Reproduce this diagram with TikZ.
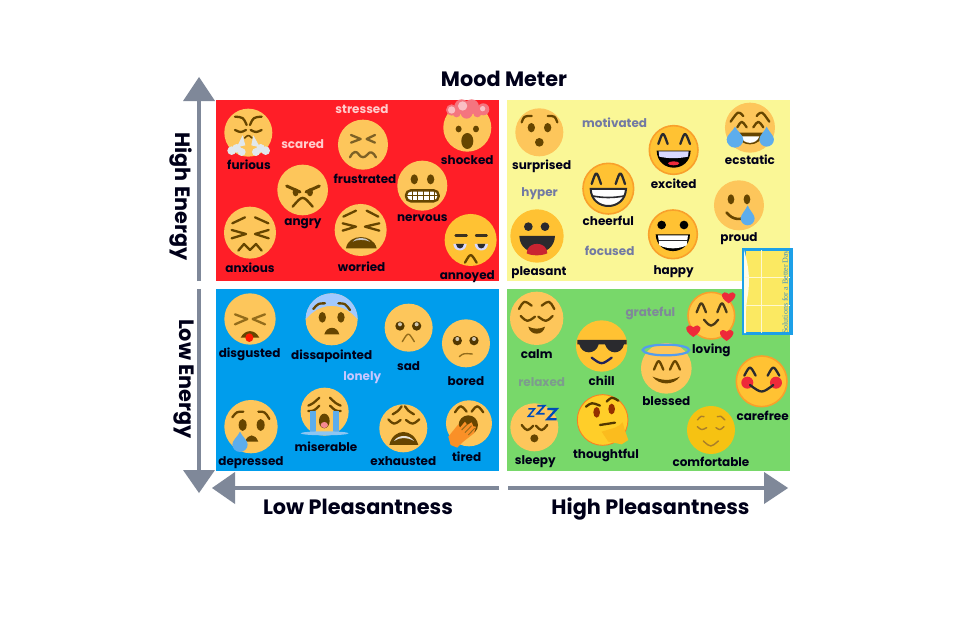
\documentclass[tikz,border=0pt]{standalone}
\usepackage{fontspec}
\setmainfont{Poppins}
\newfontfamily\thumbfont{Liberation Serif}
\definecolor{redp}{HTML}{FF1E27}
\definecolor{yelp}{HTML}{FAF796}
\definecolor{blup}{HTML}{009DEC}
\definecolor{grnp}{HTML}{78D86A}
\definecolor{gry}{HTML}{7F8899}
\definecolor{fa}{HTML}{FDC65B}
\definecolor{fb}{HTML}{FFC233}
\definecolor{rimc}{HTML}{F9A02B}
\definecolor{brn}{HTML}{664500}
\definecolor{tear}{HTML}{5DADEC}
\definecolor{dk}{HTML}{2A2A2E}
\definecolor{hrt}{HTML}{EE2A3A}
\definecolor{steam}{HTML}{E1E8ED}
\definecolor{tb}{HTML}{1CA0E8}
\definecolor{ty}{HTML}{FBE962}
\tikzset{
 panel/.style={draw=none,inner sep=0pt,outer sep=0pt},
 face/.style={circle,inner sep=0pt,outer sep=0pt,fill=fa},
 rimf/.style={fill=fb,draw=rimc,line width=1.6pt},
 lab/.style={font=\bfseries\fontsize{12}{13}\selectfont,text=black!90!blue,inner sep=0pt},
 mood/.style={font=\bfseries\fontsize{12}{13}\selectfont,inner sep=0pt},
 dsc/.style={yshift=-1.6pt},
 head/.style={font=\bfseries\fontsize{20.8}{22}\selectfont,text=black!90!blue,inner sep=0pt},
 axis/.style={draw=gry,line width=4.8pt},
 tip/.style={fill=gry},
 br/.style={draw=brn,line width=2.3pt,line cap=round,line join=round},
 thin br/.style={draw=brn,line width=1.4pt,line cap=round,line join=round},
 zone/.style={x=0.3333pt,y=-0.3333pt},
}
\newcommand{\fc}[5][]{\node[face,minimum size={#5*2/3*1pt},#1] (#2) at (#3,#4) {};}
\newcommand{\ey}[5][brn]{\fill[#1] (#2,#3) ellipse [x radius=#4,y radius=#5];}
\newcommand{\dropp}[4]{\fill[tear] (#1,#2) .. controls ({#1-.25*#4},{#2+.35*(#3-#2)}) and ({#1-#4},{#3-.5*#4}) .. ({#1-#4},#3) arc[start angle=180,end angle=0,radius=#4] .. controls ({#1+#4},{#3-.5*#4}) and ({#1+.25*#4},{#2+.35*(#3-#2)}) .. (#1,#2) -- cycle;}
\newcommand{\hrtt}[3]{\fill[hrt] (#1,{#2+#3}) .. controls ({#1-1.7*#3},{#2-.05*#3}) and ({#1-.95*#3},{#2-1.15*#3}) .. (#1,{#2-.4*#3}) .. controls ({#1+.95*#3},{#2-1.15*#3}) and ({#1+1.7*#3},{#2-.05*#3}) .. (#1,{#2+#3}) -- cycle;}
\begin{document}
\begin{tikzpicture}[x=1pt,y=-1pt]
\useasboundingbox (0,0) rectangle (972,618);
\fill[white] (0,0) rectangle (972,618);
% panels
\node[panel,fill=redp,minimum width=283pt,minimum height=181.5pt] (red) at (357.5,190.7) {};
\node[panel,fill=yelp,minimum width=283pt,minimum height=181.5pt] (yellow) at (648.5,190.7) {};
\node[panel,fill=blup,minimum width=283pt,minimum height=182pt] (blue) at (357.5,380) {};
\node[panel,fill=grnp,minimum width=283pt,minimum height=182pt] (green) at (648.5,380) {};
% axes
\coordinate (ua) at (199,281); \coordinate (ub) at (199,100);
\coordinate (da) at (199,289); \coordinate (db) at (199,471);
\coordinate (la) at (499,488); \coordinate (lb) at (234,488);
\coordinate (ra) at (508,488); \coordinate (rb) at (765,488);
\draw[axis] (ua) -- (ub); \draw[axis] (da) -- (db);
\draw[axis] (la) -- (lb); \draw[axis] (ra) -- (rb);
\fill[tip] (183,101) -- (199,77) -- (215,101) -- cycle;
\fill[tip] (183,470) -- (199,493) -- (215,470) -- cycle;
\fill[tip] (235,472) -- (212,488) -- (235,504) -- cycle;
\fill[tip] (764,472) -- (788,488) -- (764,504) -- cycle;
% headings
\node[head] (title) at (504,79) {Mood Meter};
\node[head,rotate=-90] (hi) at (181,196.5) {High Energy};
\node[head,rotate=-90] (lo) at (184,379) {Low Energy};
\node[head] (lp) at (358,507) {Low Pleasantness};
\node[head] (hp) at (650.5,509) {High Pleasantness};
% ============ RED
\begin{scope}[shift={(170,60)},zone]
\fc{furious}{235}{218}{72}
\draw[br] (195,170) .. controls (220,172) .. (230,195); \draw[br] (275,170) .. controls (250,172) .. (240,195);
\draw[br] (195,210) .. controls (212,218) .. (228,210); \draw[br] (242,210) .. controls (258,218) .. (275,210);
\draw[br,line width=1.6pt] (224,234) .. controls (235,224) .. (246,234);
\fill[steam] (218,226) -- (200,262) -- (226,256) -- cycle; \fill[steam] (250,226) -- (270,262) -- (244,256) -- cycle;
\foreach \a/\b/\c in {185/272/13,200/265/13,215/276/12,258/276/12,272/265/13,287/272/13}{\fill[steam] (\a,\b) circle[radius=\c];}
\fc{angry}{398}{390}{76}
\draw[br,line width=3pt] (350,378) -- (390,396); \draw[br,line width=3pt] (448,378) -- (408,396);
\ey{377}{397}{9}{12}\ey{420}{397}{9}{12}
\draw[br,line width=2.4pt] (368,440) .. controls (398,405) .. (428,440);
\fc{frustrated}{579}{254}{75}
\draw[br,draw=brn!85!white] (543,225) -- (572,237) -- (543,248); \draw[br,draw=brn!85!white] (615,225) -- (590,237) -- (615,248);
\draw[br,draw=brn!85!white] (540,292) .. controls (550,272) and (560,272) .. (567,284) .. controls (574,294) and (584,294) .. (592,284) .. controls (600,272) and (610,276) .. (618,292);
\fc{nervous}{757}{377}{75}
\ey{733}{358}{11}{15}\ey{782}{358}{11}{15}
\draw[fill=white,draw=brn,line width=2.4pt,rounded corners=5pt] (708,391) rectangle (806,424);
\draw[brn,line width=.8pt] (708,407) -- (806,407);
\foreach \a in {726,743,760,777,794}{\draw[brn,line width=.8pt] (\a,391) -- (\a,424);}
\fc{shocked}{892}{203}{72}
\ey{866}{207}{9}{10}\ey{918}{207}{9}{10}\ey{892}{243}{18}{24}
\foreach \a/\b/\c in {845/150/17,875/140/22,905/140/22,940/148/18,890/158/18,860/160/12,922/160/12}{\fill[hrt!65!white] (\a,\b) circle[radius=\c];}
\foreach \a/\b/\c in {845/150/11,878/138/14,938/146/8}{\fill[hrt!30!white] (\a,\b) circle[radius=\c];}
\fc[fill=fb]{annoyed}{902}{540}{78}
\draw[br,draw=dk!70!brn] (857,527) -- (890,527); \draw[br,draw=dk!70!brn] (918,527) -- (950,527);
\fill[white!85!blue] (850,552) .. controls (852,578) and (888,578) .. (890,552) -- cycle;
\fill[white!85!blue] (914,552) .. controls (916,578) and (952,578) .. (954,552) -- cycle;
\fill[dk] (858,552) .. controls (860,570) and (880,570) .. (882,552) -- cycle;
\fill[dk] (922,552) .. controls (924,570) and (944,570) .. (946,552) -- cycle;
\draw[br] (885,608) .. controls (902,578) .. (920,608);
\fc{anxious}{240}{518}{78}
\draw[br] (187,490) -- (225,472); \draw[br] (255,472) -- (295,490);
\draw[br] (185,510) -- (228,522) -- (185,535); \draw[br] (296,510) -- (255,522) -- (296,535);
\draw[br] (205,572) -- (222,552) -- (240,570) -- (258,552) -- (275,572);
\fc{worried}{572}{510}{78}
\draw[br] (520,470) -- (558,452); \draw[br] (590,452) -- (625,470);
\draw[br] (518,490) -- (558,500) -- (518,512); \draw[br] (628,490) -- (585,500) -- (628,512);
\fill[brn] (528,565) .. controls (535,520) and (610,520) .. (620,565) -- cycle;
\fill[gray!45] (548,545) .. controls (558,530) and (588,530) .. (600,545) .. controls (585,538) and (560,538) .. (548,545) -- cycle;
% labels
\node[lab] (furiousl) at (237,315) {furious};
\node[lab,dsc] (angryl) at (399,487) {angry};
\node[lab] (frustratedl) at (585,358) {frustrated};
\node[lab] (nervousl) at (757,476) {nervous};
\node[lab] (shockedl) at (892,300) {shocked};
\node[lab,dsc] (annoyedl) at (892,645) {annoyed};
\node[lab] (anxiousl) at (240,622) {anxious};
\node[lab] (worriedl) at (575,621) {worried};
\node[mood,text=white!80!red] (stressed) at (576,148) {stressed};
\node[mood,text=white!80!red] (scared) at (398,251) {scared};
\end{scope}
% ============ YELLOW
\begin{scope}[shift={(500,90)},zone]
\fc{surprised}{118}{127}{72}
\draw[br] (65,97) .. controls (72,78) .. (95,78); \draw[br] (143,78) .. controls (165,78) .. (172,97);
\ey{94}{113}{11}{14}\ey{143}{113}{11}{14}\ey{118}{157}{13}{13}
\fc[rimf]{cheerful}{325}{296}{76}
\draw[br,draw=dk] (275,282) .. controls (289,240) .. (303,282); \draw[br,draw=dk] (347,282) .. controls (361,240) .. (375,282);
\draw[fill=white,draw=dk,line width=2pt] (272,297) -- (378,297) .. controls (375,365) and (275,365) .. (272,297) -- cycle;
\draw[dk,line width=1.6pt] (278,318) .. controls (310,324) and (340,324) .. (372,318);
\fc[rimf]{excited}{521}{180}{73}
\draw[br,draw=dk] (475,162) .. controls (489,122) .. (503,162); \draw[br,draw=dk] (541,162) .. controls (555,122) .. (570,162);
\fill[black] (470,182) -- (572,182) .. controls (570,250) and (472,250) .. (470,182) -- cycle;
\fill[white!85!blue] (476,184) -- (566,184) -- (564,200) .. controls (535,206) and (505,206) .. (478,200) -- cycle;
\ey[hrt]{521}{220}{17}{6}
\fc{ecstatic}{750}{113}{75}
\draw[br] (692,95) .. controls (715,62) .. (730,78); \draw[br] (808,95) .. controls (785,62) .. (770,78);
\draw[br] (712,112) .. controls (725,90) .. (740,112); \draw[br] (760,112) .. controls (775,90) .. (790,112);
\fill[brn] (710,128) -- (790,128) .. controls (785,175) and (715,175) .. (710,128) -- cycle;
\fill[white] (722,139) -- (778,139) .. controls (770,165) and (730,165) .. (722,139) -- cycle;
\dropp{705}{110}{148}{25} \dropp{800}{110}{148}{22}
\fc{proud}{717}{346}{75}
\ey{693}{328}{10}{15}\ey{741}{328}{10}{15}
\draw[br,line width=2.6pt] (680,368) .. controls (700,392) and (725,392) .. (745,375);
\dropp{743}{346}{385}{21}
\fc[rimf]{happy}{519}{433}{73}
\ey[black]{485}{405}{13}{13}\ey[black]{552}{405}{13}{13}
\fill[black] (467,433) -- (570,433) .. controls (568,500) and (470,500) .. (467,433) -- cycle;
\fill[white] (474,436) -- (564,436) -- (560,466) .. controls (535,478) and (503,478) .. (478,466) -- cycle;
\draw[dk,line width=.8pt] (474,452) -- (564,452);
\fc[fill=fb]{pleasant}{111}{438}{80}
\ey[dk]{85}{410}{13}{13}\ey[dk]{135}{410}{13}{13}
\fill[dk] (58,438) -- (165,438) .. controls (162,505) and (60,505) .. (58,438) -- cycle;
\fill[hrt!85!black] (80,490) .. controls (80,452) and (142,452) .. (142,490) .. controls (125,498) and (95,498) .. (80,490) -- cycle;
\node[lab,dsc] (surprisedl) at (125,223) {surprised};
\node[lab] (cheerfull) at (325,394) {cheerful};
\node[lab] (excitedl) at (521,282) {excited};
\node[lab] (ecstaticl) at (750,210) {ecstatic};
\node[lab,dsc] (proudl) at (717,441) {proud};
\node[lab,dsc] (happyl) at (521,541) {happy};
\node[lab,dsc] (pleasantl) at (117,543) {pleasant};
\node[mood,text=gry!90!blue] (motivated) at (344,97) {motivated};
\node[mood,text=gry!90!blue,dsc] (hyper) at (119,305) {hyper};
\node[mood,text=gry!90!blue] (focused) at (329,484) {focused};
\end{scope}
% ============ BLUE
\begin{scope}[shift={(170,285)},zone]
\fc{disgusted}{240}{102}{77}
\draw[br,draw=brn!70!fa] (195,88) -- (232,102) -- (195,118); \draw[br,draw=brn!70!fa] (285,88) -- (248,102) -- (285,118);
\fill[brn] (212,158) .. controls (225,132) and (255,132) .. (268,158) -- cycle;
\ey[red!80!orange]{238}{158}{12}{13}
\fc{dissapointed}{485}{103}{78}
\begin{scope}
\clip (485,103) circle[radius=78];
\fill[blue!25!white!85!cyan] (400,20) rectangle (570,55) (400,55) -- (570,55) -- (570,110) -- (545,85) .. controls (510,55) and (460,55) .. (425,85) -- (400,110) -- cycle;
\end{scope}
\draw[br] (430,72) .. controls (445,55) .. (465,55); \draw[br] (505,55) .. controls (525,55) .. (540,75);
\ey{457}{97}{11}{16}\ey{513}{97}{11}{16}
\fill[brn] (463,148) .. controls (470,122) and (502,122) .. (508,148) -- cycle;
\fc{sad}{716}{128}{72}
\ey[brn!80!black]{690}{123}{14}{14}\ey[brn!80!black]{740}{123}{14}{14}
\fill[white!70!brn] (690,118) circle[radius=6] (740,118) circle[radius=6];
\draw[thin br,draw=brn!70!fa] (697,170) .. controls (715,140) .. (733,170);
\fc{bored}{888}{175}{72}
\ey[brn!80!black]{862}{167}{14}{14}\ey[brn!80!black]{912}{167}{14}{14}
\fill[white!70!brn] (862,162) circle[radius=6] (912,162) circle[radius=6];
\draw[thin br,draw=brn!70!fa] (868,215) .. controls (880,205) .. (907,207);
\fc{depressed}{243}{425}{80}
\draw[br] (187,397) .. controls (200,380) .. (220,380); \draw[br] (265,380) .. controls (285,380) .. (298,402);
\ey{218}{420}{12}{18}\ey{272}{420}{12}{18}
\fill[brn] (225,470) .. controls (235,445) and (255,445) .. (265,470) -- cycle;
\dropp{210}{440}{478}{23}
\fc{miserable}{464}{380}{72}
\draw[br] (415,362) .. controls (430,355) .. (448,338); \draw[br] (512,362) .. controls (497,355) .. (480,338);
\draw[br] (415,378) .. controls (432,378) .. (448,362); \draw[br] (512,378) .. controls (497,378) .. (480,362);
\fill[tear] (421,378) rectangle (437,442); \fill[tear] (490,378) rectangle (506,442);
\fill[tear!70!white] (464,445) ellipse[x radius=72,y radius=6];
\ey{463}{408}{16}{22}\ey[hrt!55!white]{463}{420}{11}{9}
\fc{exhausted}{700}{430}{72}
\draw[br] (668,388) .. controls (685,378) .. (695,364); \draw[br] (732,388) .. controls (715,378) .. (705,364);
\draw[br] (655,403) .. controls (672,420) .. (692,405); \draw[br] (708,405) .. controls (728,420) .. (748,403);
\fill[brn] (658,480) .. controls (670,428) and (730,428) .. (745,480) -- cycle;
\fill[white!85!brn] (672,468) .. controls (685,448) and (718,448) .. (732,468) .. controls (712,456) and (690,456) .. (672,468) -- cycle;
\fc{tired}{897}{415}{69}
\draw[br] (855,382) .. controls (872,358) .. (890,380); \draw[br] (905,380) .. controls (922,358) .. (940,382);
\ey{895}{420}{29}{29}
\fill[rimc!90!red] (835,455) -- (865,418) -- (870,428) -- (885,410) -- (892,420) -- (905,412) -- (910,424) -- (918,425) -- (912,445) -- (880,470) -- (862,488) -- (842,480) -- cycle;
\draw[brn!70!fa,line width=.9pt] (875,435) -- (892,418) (885,443) -- (905,422) (895,450) -- (914,430);
\node[lab,dsc] (disgustedl) at (239,203) {disgusted};
\node[lab,dsc] (dissapointedl) at (485,208) {dissapointed};
\node[lab] (sadl) at (716,243) {sad};
\node[lab] (boredl) at (888,287) {bored};
\node[lab,dsc] (depressedl) at (243,528) {depressed};
\node[lab] (miserablel) at (468,485) {miserable};
\node[lab] (exhaustedl) at (700,527) {exhausted};
\node[lab] (tiredl) at (890,516) {tired};
\node[mood,text=white!78!blue,dsc] (lonely) at (577,272) {lonely};
\end{scope}
% ============ GREEN
\begin{scope}[shift={(500,285)},zone]
\fc{calm}{110}{100}{80}
\draw[br] (57,72) .. controls (72,45) .. (95,62); \draw[br] (125,62) .. controls (148,45) .. (163,72);
\draw[br] (62,93) .. controls (82,112) .. (105,95); \draw[br] (115,95) .. controls (138,112) .. (158,93);
\fill[brn] (85,125) .. controls (100,133) and (120,133) .. (135,125) .. controls (130,153) and (90,153) .. (85,125) -- cycle;
\fc[fill=fb]{chill}{305}{183}{77}
\fill[dk] (232,165) -- (380,165) -- (380,178) -- (372,178) .. controls (365,210) and (325,210) .. (315,178) -- (296,178) .. controls (288,210) and (245,210) .. (238,178) -- (232,178) -- cycle;
\draw[br,draw=dk!80!blue] (275,218) .. controls (305,240) .. (335,218);
\fc{blessed}{499}{250}{76}
\draw[draw=tear!90!blue,line width=2.2pt] (498,195) ellipse[x radius=70,y radius=16];
\draw[br] (462,254) .. controls (476,220) .. (490,254); \draw[br] (510,254) .. controls (525,220) .. (540,254);
\fill[brn] (458,275) .. controls (490,288) and (510,288) .. (540,275) .. controls (520,302) and (478,302) .. (458,275) -- cycle;
\fc[rimf,fill=fb!90!white]{loving}{634}{92}{70}
\draw[br,draw=dk!50!brn] (590,82) .. controls (604,46) .. (618,82); \draw[br,draw=dk!50!brn] (652,82) .. controls (666,46) .. (680,82);
\draw[br,draw=dk!50!brn] (612,104) .. controls (633,128) .. (655,104);
\hrtt{686}{35}{20}\hrtt{580}{135}{21}\hrtt{680}{148}{20}
\fc[rimf]{carefree}{785}{289}{76}
\draw[br,draw=dk] (733,272) .. controls (750,240) .. (767,272); \draw[br,draw=dk] (803,272) .. controls (820,240) .. (838,272);
\fill[hrt] (742,293) circle[radius=18] (828,293) circle[radius=18];
\draw[br,draw=dk] (750,300) .. controls (785,326) .. (820,300);
\fc{sleepy}{103}{427}{72}
\draw[br] (65,420) .. controls (82,440) .. (100,422); \draw[br] (108,422) .. controls (125,440) .. (142,420);
\ey{103}{460}{12}{12}
\draw[draw=blue!60!black!70!cyan,line width=1.5pt,line join=miter] (85,372) -- (103,372) -- (85,394) -- (103,394);
\draw[draw=blue!60!black!70!cyan,line width=1.8pt,line join=miter] (112,362) -- (134,362) -- (112,386) -- (134,386);
\draw[draw=blue!60!black!70!cyan,line width=2.2pt,line join=miter] (142,372) -- (170,372) -- (142,403) -- (170,403);
\fc[fill=fb!80!yellow,draw=rimc!80!red,line width=.9pt]{thoughtful}{308}{405}{76}
\draw[br,draw=brn!80!black] (258,365) .. controls (275,352) .. (300,362); \draw[br,draw=brn!80!black] (320,350) .. controls (335,335) .. (355,347);
\ey[brn!70!red]{290}{382}{10}{16}\ey[brn!70!red]{335}{372}{10}{16}
\draw[br,draw=brn!80!black] (300,420) -- (345,413);
\fill[rimc!70!yellow] (305,440) -- (345,428) -- (360,420) -- (368,412) -- (376,440) -- (385,465) -- (365,478) -- (325,470) -- cycle;
\fc[fill=yellow!60!orange!90!brown]{comfortable}{633}{435}{72}
\draw[thin br,draw=brn!55!fa] (592,405) .. controls (604,392) .. (612,395); \draw[thin br,draw=brn!55!fa] (652,395) .. controls (662,392) .. (675,405);
\draw[thin br,draw=brn!55!fa] (592,425) .. controls (605,436) .. (620,428); \draw[thin br,draw=brn!55!fa] (648,428) .. controls (660,436) .. (672,425);
\draw[thin br,draw=brn!55!fa] (610,468) .. controls (632,488) .. (655,468);
\node[lab] (calml) at (110,208) {calm};
\node[lab] (chilll) at (305,286) {chill};
\node[lab] (blessedl) at (499,349) {blessed};
\node[lab,dsc] (lovingl) at (634,192) {loving};
\node[lab] (carefreel) at (788,394) {carefree};
\node[lab,dsc] (sleepyl) at (106,525) {sleepy};
\node[lab,dsc] (thoughtfull) at (318,507) {thoughtful};
\node[lab] (comfortablel) at (633,530) {comfortable};
\node[mood,text=gry,dsc] (grateful) at (451,80) {grateful};
\node[mood,text=gry!75!grnp] (relaxed) at (125,292) {relaxed};
\end{scope}
% ============ THUMBNAIL
\node[panel,draw=tb,line width=3.6pt,fill=ty,minimum width=47.5pt,minimum height=84pt] (thumb) at (767.5,291.5) {};
\fill[white!85!ty] (744,250) .. controls (750,270) and (750,285) .. (747,300) .. controls (745,315) and (746,325) .. (746,333) -- (744,333) -- cycle;
\draw[white!70!ty,line width=1pt] (761,250) -- (761,333) (745,277) -- (790,277) (745,305) -- (790,305);
\node[rotate=90,inner sep=0pt,font=\thumbfont\fontsize{8}{9}\selectfont,text=tb!60!gray] (thumbt) at (786,292) {Solutions for a Better Day};
\end{tikzpicture}
\end{document}
